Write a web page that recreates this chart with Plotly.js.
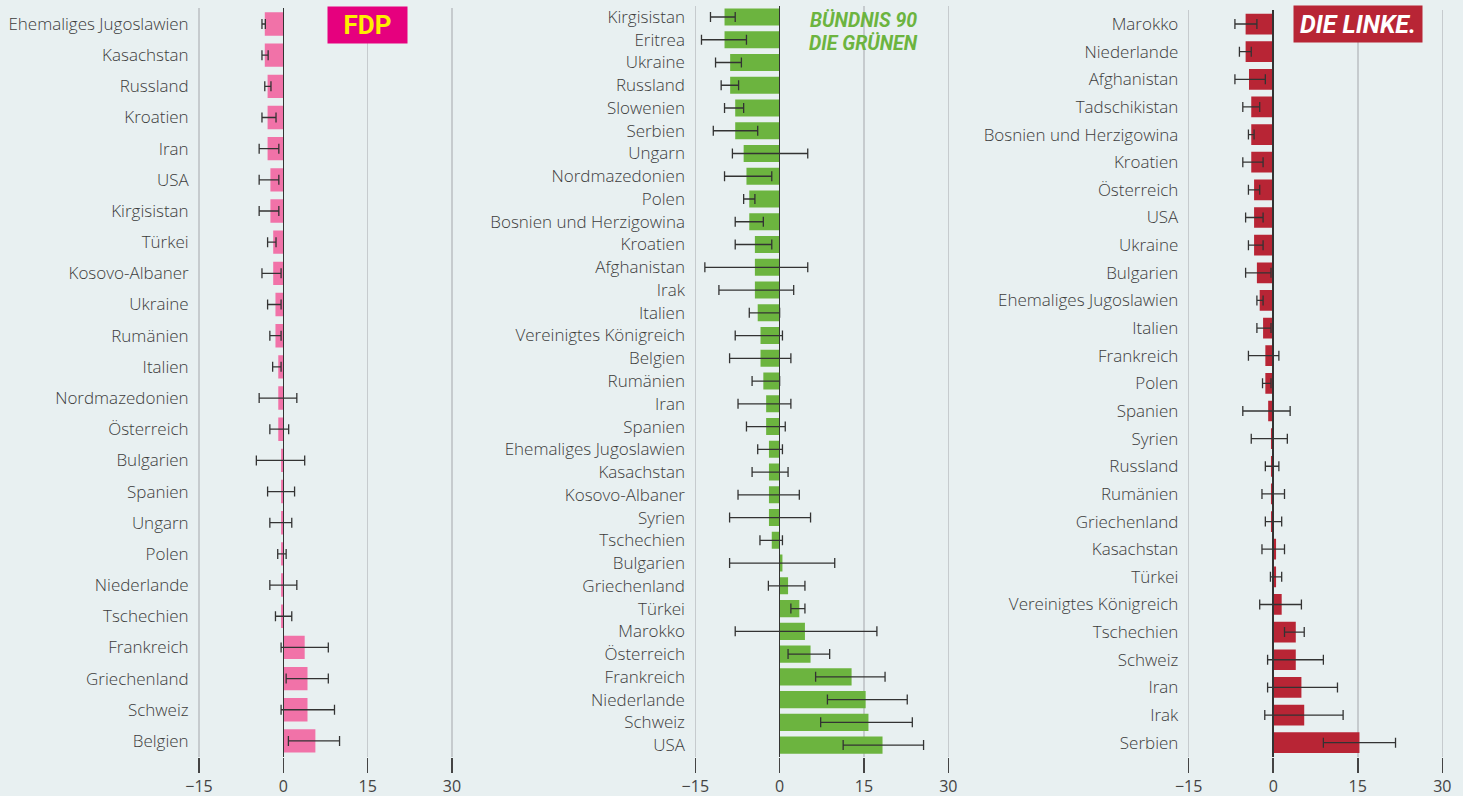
<!DOCTYPE html>
<html>
<head>
<meta charset="utf-8">
<script src="https://cdn.plot.ly/plotly-3.0.1.min.js"></script>
<style>
  html, body { margin: 0; padding: 0; background: #e8f0f1; }
  #chart { width: 1463px; height: 796px; }
</style>
</head>
<body>
<div id="chart"></div>
<script>
// ---------- FDP ----------
const fdpCountries = ["Ehemaliges Jugoslawien","Kasachstan","Russland","Kroatien","Iran","USA","Kirgisistan","Türkei","Kosovo-Albaner","Ukraine","Rumänien","Italien","Nordmazedonien","Österreich","Bulgarien","Spanien","Ungarn","Polen","Niederlande","Tschechien","Frankreich","Griechenland","Schweiz","Belgien"];
const fdpValues = [-3.3,-3.3,-2.8,-2.8,-2.8,-2.3,-2.3,-1.8,-1.8,-1.4,-1.4,-0.9,-0.9,-0.9,-0.4,-0.4,-0.4,-0.4,-0.4,-0.4,3.8,4.3,4.3,5.7];
const fdpLow = [-3.8,-3.8,-3.3,-3.8,-4.3,-4.3,-4.3,-2.8,-3.8,-2.8,-2.4,-1.9,-4.3,-2.4,-4.8,-2.8,-2.4,-1.0,-2.4,-1.4,-0.4,0.5,-0.4,0.9];
const fdpHigh = [-3.2,-2.7,-2.2,-1.3,-0.8,-0.8,-0.8,-1.3,-0.4,-0.4,-0.4,-0.4,2.4,0.95,3.8,2.0,1.5,0.5,2.4,1.5,8.0,8.0,9.1,10.0];

// ---------- Bündnis 90 / Die Grünen ----------
const gruenCountries = ["Kirgisistan","Eritrea","Ukraine","Russland","Slowenien","Serbien","Ungarn","Nordmazedonien","Polen","Bosnien und Herzigowina","Kroatien","Afghanistan","Irak","Italien","Vereinigtes Königreich","Belgien","Rumänien","Iran","Spanien","Ehemaliges Jugoslawien","Kasachstan","Kosovo-Albaner","Syrien","Tschechien","Bulgarien","Griechenland","Türkei","Marokko","Österreich","Frankreich","Niederlande","Schweiz","USA"];
const gruenValues = [-9.8,-9.8,-8.8,-8.8,-7.9,-7.9,-6.4,-5.9,-5.4,-5.4,-4.4,-4.4,-4.4,-3.9,-3.4,-3.4,-2.9,-2.4,-2.4,-1.9,-1.9,-1.9,-1.9,-1.4,0.5,1.5,3.5,4.5,5.5,12.8,15.3,15.8,18.3];
const gruenLow = [-12.3,-13.9,-11.4,-10.4,-9.8,-11.8,-8.4,-9.8,-6.4,-7.9,-7.9,-13.3,-10.8,-5.4,-7.9,-8.9,-4.9,-7.4,-5.9,-3.9,-4.9,-7.4,-8.9,-3.5,-8.9,-2.0,2.0,-7.9,1.5,6.4,8.5,7.3,11.3];
const gruenHigh = [-7.9,-5.9,-6.8,-7.3,-6.4,-3.9,5.0,-1.4,-4.4,-2.9,-1.4,5.0,2.5,0.0,0.5,2.0,0.0,2.0,1.0,0.5,1.5,3.5,5.5,0.5,9.8,4.5,4.5,17.3,8.9,18.75,22.7,23.6,25.6];

// ---------- Die Linke ----------
const linkeCountries = ["Marokko","Niederlande","Afghanistan","Tadschikistan","Bosnien und Herzigowina","Kroatien","Österreich","USA","Ukraine","Bulgarien","Ehemaliges Jugoslawien","Italien","Frankreich","Polen","Spanien","Syrien","Russland","Rumänien","Griechenland","Kasachstan","Türkei","Vereinigtes Königreich","Tschechien","Schweiz","Iran","Irak","Serbien"];
const linkeValues = [-4.9,-4.9,-4.3,-3.9,-3.9,-3.9,-3.4,-3.4,-3.4,-2.9,-2.4,-1.8,-1.4,-1.4,-0.9,-0.4,-0.4,-0.4,-0.4,0.5,0.5,1.5,4.0,4.0,5.0,5.5,15.3];
const linkeLow = [-6.8,-6.0,-6.8,-5.4,-4.4,-5.4,-4.4,-4.9,-4.4,-4.9,-2.9,-2.9,-4.4,-1.9,-5.4,-3.9,-1.4,-2.0,-1.4,-2.0,-0.5,-2.4,2.0,-1.0,-1.0,-1.5,8.9];
const linkeHigh = [-2.9,-3.9,-1.4,-2.4,-3.4,-1.8,-2.4,-1.8,-1.8,-0.4,-1.8,-0.4,1.0,-0.4,3.0,2.5,1.0,2.0,1.5,2.0,1.5,5.0,5.5,8.9,11.4,12.4,21.7];

const xTicks = [-15, 0, 15, 30];
const xTickText = ['\u221215', '0', '15', '30'];

function barTrace(cats, vals, lo, hi, color, xa, ya) {
  return {
    type: 'bar', orientation: 'h',
    x: vals, y: cats, xaxis: xa, yaxis: ya,
    marker: { color: color, line: { width: 0 } },
    error_x: {
      type: 'data', symmetric: false,
      array: vals.map((v, i) => hi[i] - v),
      arrayminus: vals.map((v, i) => v - lo[i]),
      color: '#333333', thickness: 1.3, width: 5
    },
    hoverinfo: 'skip', showlegend: false
  };
}

const data = [
  barTrace(fdpCountries, fdpValues, fdpLow, fdpHigh, '#f172a8', 'x', 'y'),
  barTrace(gruenCountries, gruenValues, gruenLow, gruenHigh, '#6cb43f', 'x2', 'y2'),
  barTrace(linkeCountries, linkeValues, linkeLow, linkeHigh, '#b82535', 'x3', 'y3')
];

const W = 1463, H = 796;
const PAD = 0.7; // range padding so the edge grid lines are not clipped
function xax(x0, x1, anchor) {
  const pxu = (x1 - x0) / 45;
  return {
    domain: [(x0 - PAD * pxu) / W, (x1 + PAD * pxu) / W], anchor: anchor,
    range: [-15 - PAD, 30 + PAD], tickvals: xTicks, ticktext: xTickText,
    showgrid: true, gridcolor: '#c6cbce', gridwidth: 1.5,
    zeroline: true, zerolinecolor: '#333333', zerolinewidth: 1.5, zerolinelayer: 'above traces',
    showline: false, ticks: 'outside', ticklen: 15, tickwidth: 1.5, tickcolor: '#444444',
    tickfont: { family: 'Open Sans', size: 16, color: '#444444' },
    automargin: false, fixedrange: true
  };
}
function yax(top, anchor) {
  return {
    domain: [1 - 756.5 / H, 1 - top / H], anchor: anchor,
    autorange: 'reversed', showgrid: false, zeroline: false, showline: false,
    ticks: 'outside', ticklen: 2, tickcolor: 'rgba(0,0,0,0)',
    tickfont: { family: 'Open Sans', size: 17, color: '#3c3c3c', weight: 300 },
    automargin: false, fixedrange: true
  };
}

const layout = {
  width: W, height: H,
  margin: { l: 0, r: 0, t: 0, b: 0 },
  paper_bgcolor: '#e8f0f1', plot_bgcolor: 'rgba(0,0,0,0)',
  bargap: 0.25,
  font: { family: 'Open Sans', color: '#3c3c3c' },
  xaxis: xax(199, 452, 'y'),
  yaxis: yax(8.4, 'x'),
  xaxis2: xax(695.3, 948.3, 'y2'),
  yaxis2: yax(5.6, 'x2'),
  xaxis3: xax(1188.7, 1442.3, 'y3'),
  yaxis3: yax(10.2, 'x3'),
  annotations: [
    { xref: 'x', yref: 'paper', x: 15, y: 1 - 25 / H, xanchor: 'center', yanchor: 'middle',
      text: '<b>FDP</b>', showarrow: false, bgcolor: '#e6007e', width: 79, height: 36, borderpad: 0,
      font: { family: 'Roboto', size: 26, color: '#ffed00' } },
    { xref: 'x2', yref: 'paper', x: 15, y: 1 - 20.5 / H, xanchor: 'center', yanchor: 'middle',
      text: '<b><i>BÜNDNIS 90</i></b>', showarrow: false,
      font: { family: 'Roboto', size: 19.5, color: '#6cb43f' } },
    { xref: 'x2', yref: 'paper', x: 15, y: 1 - 43.5 / H, xanchor: 'center', yanchor: 'middle',
      text: '<b><i>DIE GRÜNEN</i></b>', showarrow: false,
      font: { family: 'Roboto', size: 19.5, color: '#6cb43f' } },
    { xref: 'x3', yref: 'paper', x: 15, y: 1 - 24 / H, xanchor: 'center', yanchor: 'middle',
      text: '<b><i>DIE LINKE.</i></b>', showarrow: false, bgcolor: '#b82535', width: 128, height: 36, borderpad: 0,
      font: { family: 'Roboto', size: 25, color: '#ffffff' } }
  ]
};

Plotly.newPlot('chart', data, layout, { staticPlot: true, displayModeBar: false });
</script>
</body>
</html>
